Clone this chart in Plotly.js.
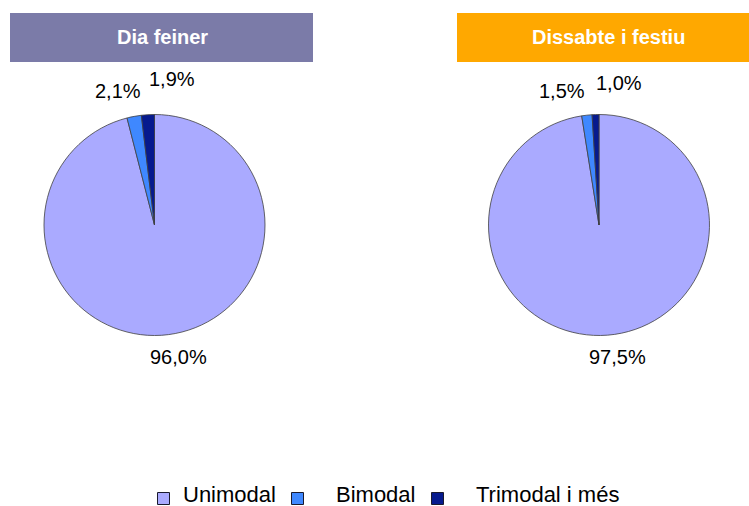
<!DOCTYPE html>
<html>
<head>
<meta charset="utf-8">
<script src="https://cdn.plot.ly/plotly-3.0.1.min.js"></script>
<style>html,body{margin:0;padding:0;background:#fff;}#chart{width:749px;height:506px;}</style>
</head>
<body>
<div id="chart"></div>
<script>
const categories = ["Unimodal", "Bimodal", "Trimodal i més"];
const weekdayValues = [96.0, 2.1, 1.9];
const weekendValues = [97.5, 1.5, 1.0];
const panelTitles = ["Dia feiner", "Dissabte i festiu"];
const sliceColors = ["#aaaaff", "#3f88ff", "#061a8e"];
const headerColors = ["#7b7ba8", "#ffa800"];

const W = 749, H = 506;
const FONT = "Liberation Sans, Arial, sans-serif";
const px = v => v / W;
const py = v => 1 - v / H;
const fmt = v => v.toFixed(1).replace(".", ",") + "%";

// label positions (pixel) per panel, per slice
const labelPos = [
  [[178, 357], [118, 91], [172, 79]],
  [[617, 357], [562, 91], [619, 83]]
];
// legend layout (pixel): marker left edge, text left edge
const legendMarkerX = [157.5, 291.5, 431.5];
const legendTextX = [182, 335, 475];

function pieTrace(values, domainX) {
  return {
    type: "pie",
    labels: categories,
    values: values,
    sort: false,
    direction: "clockwise",
    rotation: 0,
    domain: {x: domainX, y: [py(335.5), py(114.5)]},
    marker: {colors: sliceColors, line: {color: "#404040", width: 0.8}},
    textposition: "none",
    automargin: false,
    showlegend: false,
    hoverinfo: "label+value"
  };
}

const data = [
  pieTrace(weekdayValues, [px(44), px(265)]),
  pieTrace(weekendValues, [px(488.5), px(709.5)])
];

const shapes = [
  {type: "rect", xref: "paper", yref: "paper", x0: px(10), x1: px(313), y0: py(62), y1: py(13),
   fillcolor: headerColors[0], line: {width: 0}},
  {type: "rect", xref: "paper", yref: "paper", x0: px(457), x1: px(760), y0: py(62), y1: py(13),
   fillcolor: headerColors[1], line: {width: 0}}
];

const annotations = [
  {text: "<b>" + panelTitles[0] + "</b>", xref: "paper", yref: "paper", x: px(162), y: py(36.5),
   showarrow: false, xanchor: "center", yanchor: "middle", font: {family: FONT, size: 20, color: "#fff"}},
  {text: "<b>" + panelTitles[1] + "</b>", xref: "paper", yref: "paper", x: px(608), y: py(36.5),
   showarrow: false, xanchor: "center", yanchor: "middle", font: {family: FONT, size: 20, color: "#fff"}}
];
[weekdayValues, weekendValues].forEach((vals, p) => {
  vals.forEach((v, i) => {
    annotations.push({
      text: fmt(v), xref: "paper", yref: "paper",
      x: px(labelPos[p][i][0]), y: py(labelPos[p][i][1]),
      showarrow: false, xanchor: "center", yanchor: "middle",
      font: {family: FONT, size: 20, color: "#000"}
    });
  });
});

// legend (drawn as shapes + text so it sits at the reference's bottom edge)
categories.forEach((c, i) => {
  shapes.push({type: "rect", xref: "paper", yref: "paper",
    x0: px(legendMarkerX[i]), x1: px(legendMarkerX[i] + 12), y0: py(504.5), y1: py(492.5),
    fillcolor: sliceColors[i], line: {color: "#1a1a2e", width: 1}});
  annotations.push({text: c, xref: "paper", yref: "paper",
    x: px(legendTextX[i]), y: py(507.5), xanchor: "left", yanchor: "bottom",
    showarrow: false, borderpad: 0, font: {family: FONT, size: 22, color: "#000"}});
});

const layout = {
  width: W, height: H,
  margin: {l: 0, r: 0, t: 0, b: 0, autoexpand: false},
  paper_bgcolor: "#fff",
  font: {family: FONT, size: 20, color: "#000"},
  showlegend: false,
  shapes: shapes,
  annotations: annotations
};

Plotly.newPlot("chart", data, layout, {displayModeBar: false, staticPlot: true});
</script>
</body>
</html>
